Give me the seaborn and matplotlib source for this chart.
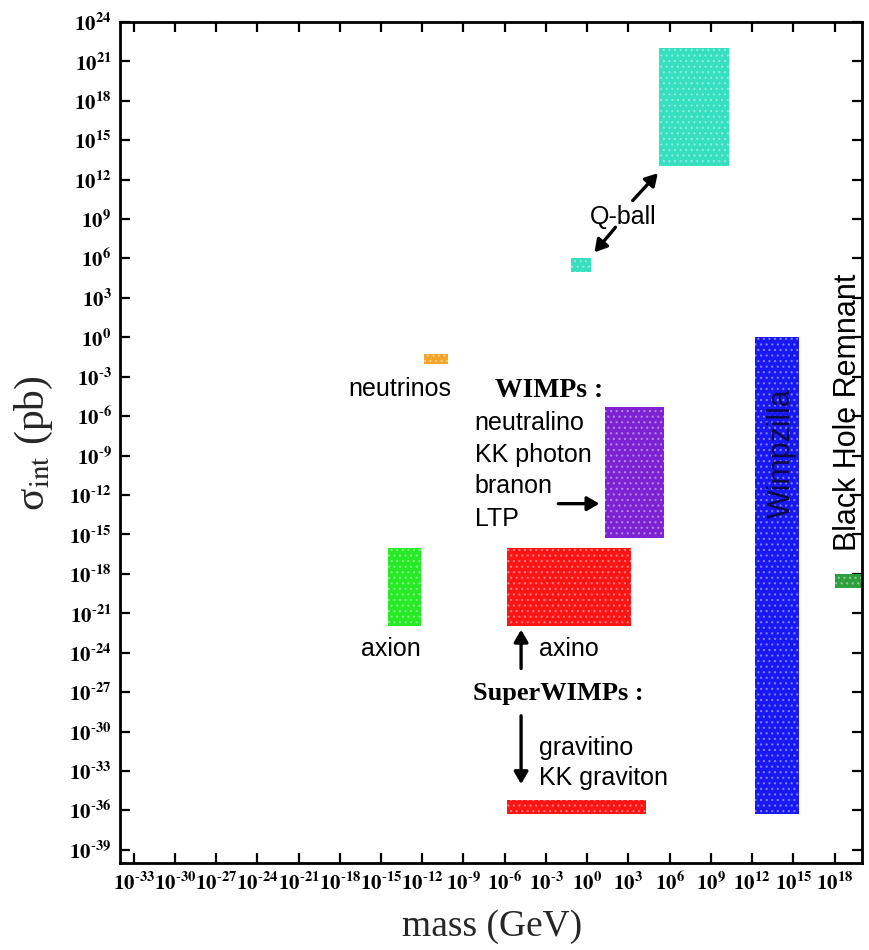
import numpy as np
import pandas as pd
import matplotlib
matplotlib.use("Agg")
import matplotlib.pyplot as plt
import matplotlib.colors as mcolors
import seaborn as sns

# ---- data (log10 values) ----
candidates = ["Q-ball (large)", "Q-ball (small)", "neutrinos", "WIMPs", "axion",
              "axino", "gravitino", "Wimpzilla", "Black Hole Remnant"]
log_mass_lo = [5.2, -1.15, -11.9, 1.3, -14.5, -5.8, -5.8, 12.2, 18.0]
log_mass_hi = [10.3, 0.3, -10.1, 5.6, -12.1, 3.2, 4.3, 15.4, 20.0]
log_sigma_lo = [13.0, 5.0, -2.0, -15.3, -22.0, -22.0, -36.3, -36.3, -19.1]
log_sigma_hi = [22.0, 6.0, -1.3, -5.3, -16.0, -16.0, -35.2, 0.0, -18.0]
colors = ["#36dfc0", "#36dfc0", "#f4a52a", "#7d22d2", "#25ea25",
          "#ff1414", "#ff1414", "#1818f5", "#2f9e3c"]

x_tick_exps = list(range(-33, 19, 3))
y_tick_exps = list(range(-39, 25, 3))

df = pd.DataFrame({
    "candidate": candidates,
    "m_lo": np.power(10.0, log_mass_lo),
    "m_hi": np.power(10.0, log_mass_hi),
    "s_lo": np.power(10.0, log_sigma_lo),
    "s_hi": np.power(10.0, log_sigma_hi),
    "color": colors,
})

sns.set_theme(style="ticks")
plt.rcParams["font.family"] = ["Liberation Sans", "DejaVu Sans"]
plt.rcParams["mathtext.fontset"] = "stix"
plt.rcParams["hatch.linewidth"] = 0.8


def tick_label(e):
    if e < 0:
        return r"$\mathbf{10^{\text{-}%d}}$" % (-e)
    return r"$\mathbf{10^{%d}}$" % e


fig = plt.figure(figsize=(8.69, 9.5), dpi=100)
ax = fig.add_axes([0.138, 0.0916, 0.854, 0.8854])
ax.set_xscale("log")
ax.set_yscale("log")
ax.set_xlim(1e-34, 1e20)
ax.set_ylim(1e-40, 1e24)

for _, r in df.iterrows():
    base = np.array(mcolors.to_rgb(r["color"]))
    light = tuple(0.55 * base + 0.45)
    ax.bar(r["m_lo"], r["s_hi"] - r["s_lo"], width=r["m_hi"] - r["m_lo"],
           bottom=r["s_lo"], align="edge", facecolor=r["color"], edgecolor=light,
           hatch="...", linewidth=0, zorder=2)

# ticks
ax.set_xticks([10.0 ** e for e in x_tick_exps])
ax.set_xticklabels([tick_label(e) for e in x_tick_exps])
ax.set_yticks([10.0 ** e for e in y_tick_exps])
ax.set_yticklabels([tick_label(e) for e in y_tick_exps])
ax.minorticks_off()
ax.tick_params(axis="both", which="major", direction="in", length=7, width=1.6,
               top=True, right=True, labelsize=15, pad=6, colors="black")
for s in ax.spines.values():
    s.set_linewidth(2.0)
    s.set_color("black")
    s.set_visible(True)

# axis labels
fig.text(492 / 869, 1 - 927 / 950, "mass (GeV)", family="Liberation Serif",
         fontsize=27, ha="center", va="center")
fig.text(34 / 869, 1 - 443 / 950, r"σ$_{\mathrm{int}}$ (pb)", family="Liberation Serif",
         fontsize=30, ha="center", va="center", rotation=90)

T = lambda e: 10.0 ** e
sans = dict(family="Liberation Sans", fontsize=18, color="black")
serifb = dict(family="Liberation Serif", fontweight="bold", color="black")
arrow = dict(arrowstyle="-|>,head_length=0.6,head_width=0.35", color="black", lw=2.4,
             shrinkA=0, shrinkB=0)

# Q-ball
ax.text(T(2.65), T(9.13), "Q-ball", ha="center", va="center", **sans)
ax.annotate("", xy=(T(5.14), T(12.48)), xytext=(T(3.31), T(10.4)), arrowprops=arrow)
ax.annotate("", xy=(T(0.53), T(6.46)), xytext=(T(2.06), T(8.37)), arrowprops=arrow)

# neutrinos
ax.text(T(-9.86), T(-3.9), "neutrinos", ha="right", va="center", **sans)

# WIMPs
ax.text(T(-6.71), T(-4.05), "WIMPs :", ha="left", va="center", fontsize=20, **serifb)
for lab, ly in zip(["neutralino", "KK photon", "branon", "LTP"], [-6.49, -8.99, -11.29, -13.8]):
    ax.text(T(-8.18), T(ly), lab, ha="left", va="center", **sans)
ax.annotate("", xy=(T(0.89), T(-12.66)), xytext=(T(-2.1), T(-12.66)), arrowprops=arrow)

# axion / axino
ax.text(T(-12.13), T(-23.7), "axion", ha="right", va="center", **sans)
ax.annotate("", xy=(T(-4.81), T(-22.25)), xytext=(T(-4.81), T(-25.2)), arrowprops=arrow)
ax.text(T(-3.5), T(-23.7), "axino", ha="left", va="center", **sans)

# SuperWIMPs
ax.text(T(-2.1), T(-27.13), "SuperWIMPs :", ha="center", va="center", fontsize=19, **serifb)
ax.annotate("", xy=(T(-4.81), T(-34.0)), xytext=(T(-4.81), T(-28.8)), arrowprops=arrow)
ax.text(T(-3.5), T(-31.24), "gravitino", ha="left", va="center", **sans)
ax.text(T(-3.5), T(-33.53), "KK graviton", ha="left", va="center", **sans)

# Wimpzilla, Black Hole Remnant
ax.text(T(14.2), T(-8.8), "Wimpzilla", ha="center", va="center", rotation=90,
        family="Liberation Sans", fontsize=22, color="#0a0a48", zorder=3)
ax.text(T(19.0), T(-5.7), "Black Hole Remnant", ha="center", va="center", rotation=90,
        family="Liberation Sans", fontsize=22, color="black", zorder=3)

fig.savefig("out.png", dpi=100, facecolor="white")
